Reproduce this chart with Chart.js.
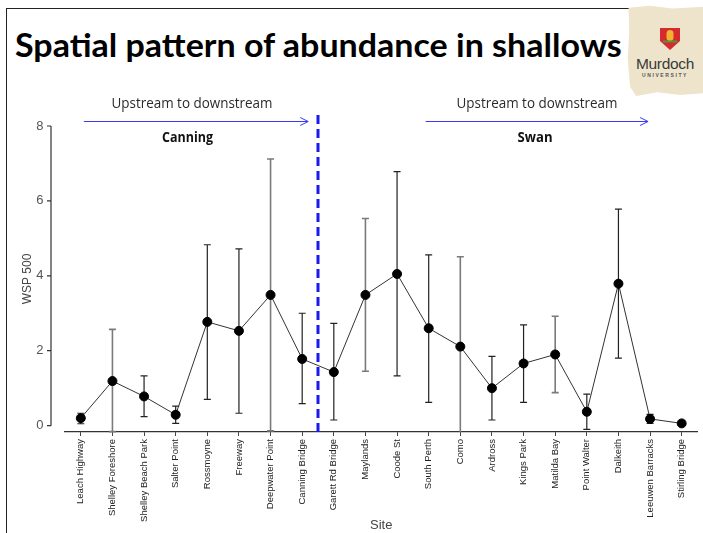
<!DOCTYPE html>
<html>
<head>
<meta charset="utf-8">
<script src="https://cdn.jsdelivr.net/npm/chart.js@4"></script>
<style>
  body { margin: 0; background: #fff; }
  #slide { position: relative; width: 703px; height: 533px; overflow: hidden; background: #fff; }
  #frameTop { position: absolute; left: 7px; top: 8px; width: 640px; height: 0; border-top: 1.5px solid #222; }
  #frameLeft { position: absolute; left: 6px; top: 8px; width: 0; height: 540px; border-left: 1.5px solid #222; }
  #title { position: absolute; left: 15px; top: 24px; font: bold 33px Lato, "Open Sans", sans-serif; color: #000;
           white-space: nowrap; transform-origin: 0 0; }
  #logo { position: absolute; left: 627px; top: 4px; width: 76px; height: 92px; background: #eee4cc;
          clip-path: polygon(2% 4%, 30% 2%, 60% 5%, 100% 3%, 100% 97%, 70% 99%, 40% 96%, 12% 100%, 4% 90%, 1% 60%, 3% 30%); }
  #logo svg { position: absolute; left: 32px; top: 23px; }
  #logo .name { position: absolute; left: 0; width: 76px; top: 51px; text-align: center;
                font: 15.5px "Liberation Sans", Arial, sans-serif; color: #3a3a3a; letter-spacing: -0.3px; }
  #logo .uni { position: absolute; left: 0; width: 76px; top: 68px; text-align: center;
               font: bold 5px "Liberation Sans", Arial, sans-serif; color: #555; letter-spacing: 1.6px; }
  canvas { position: absolute; left: 0; top: 0; }
</style>
</head>
<body>
<div id="slide">
  <div id="frameTop"></div>
  <div id="frameLeft"></div>
  <div id="title">Spatial pattern of abundance in shallows</div>
  <div id="logo">
    <svg width="22" height="24" viewBox="0 0 22 24">
      <path d="M1 1 H21 V14 L11 23 L1 14 Z" fill="#d52b2f"/>
      <rect x="7.5" y="3" width="7" height="11" rx="3.5" fill="#f2b230"/>
      <rect x="4" y="13.5" width="14" height="2" fill="#4e9a3a"/>
    </svg>
    <div class="name">Murdoch</div>
    <div class="uni">UNIVERSITY</div>
  </div>
  <canvas id="chart" width="703" height="533"></canvas>
</div>
<script>
// sites along the Canning then the Swan, upstream to downstream
const sites = ['Leach Highway', 'Shelley Foreshore', 'Shelley Beach Park', 'Salter Point', 'Rossmoyne',
  'Freeway', 'Deepwater Point', 'Canning Bridge', 'Garett Rd Bridge', 'Maylands', 'Coode St',
  'South Perth', 'Como', 'Ardross', 'Kings Park', 'Matilda Bay', 'Point Walter', 'Dalkeith',
  'Leeuwen Barracks', 'Stirling Bridge'];
const wspMean  = [0.20, 1.19, 0.78, 0.29, 2.77, 2.53, 3.49, 1.78, 1.43, 3.49, 4.05, 2.60, 2.11, 1.00, 1.66, 1.90, 0.37, 3.79, 0.18, 0.06];
const wspUpper = [0.33, 2.57, 1.33, 0.52, 4.83, 4.72, 7.12, 3.00, 2.73, 5.53, 6.78, 4.56, 4.51, 1.85, 2.69, 2.92, 0.84, 5.78, 0.30, 0.08];
const wspLower = [0.05, -0.16, 0.24, 0.06, 0.70, 0.33, -0.14, 0.59, 0.15, 1.45, 1.33, 0.62, -0.20, 0.15, 0.62, 0.88, -0.10, 1.80, 0.06, 0.04];
const yTicks = [0, 2, 4, 6, 8];

// squeeze the heading into its slot
const titleEl = document.getElementById('title');
titleEl.style.transform = 'scaleX(' + (607 / titleEl.offsetWidth) + ')';

const greyBars = [1, 6, 9, 12, 15];

// error bars behind the points
const errorBars = {
  id: 'errorBars',
  beforeDatasetsDraw(chart) {
    const { ctx, scales: { x, y }, chartArea } = chart;
    ctx.save();
    sites.forEach((s, i) => {
      const px = x.getPixelForValue(i);
      const top = y.getPixelForValue(wspUpper[i]);
      const bot = Math.min(y.getPixelForValue(wspLower[i]), chartArea.bottom);
      const grey = greyBars.includes(i);
      ctx.strokeStyle = grey ? '#7a7a7a' : '#222';
      ctx.lineWidth = grey ? 1.6 : 1.2;
      ctx.beginPath();
      ctx.moveTo(px, top); ctx.lineTo(px, bot);
      ctx.moveTo(px - 3.5, top); ctx.lineTo(px + 3.5, top);
      if (bot < chartArea.bottom) { ctx.moveTo(px - 3.5, bot); ctx.lineTo(px + 3.5, bot); }
      ctx.stroke();
    });
    ctx.restore();
  }
};

function arrow(ctx, x1, x2, yy) {
  ctx.beginPath();
  ctx.moveTo(x1, yy); ctx.lineTo(x2, yy);
  ctx.moveTo(x2 - 8, yy - 4); ctx.lineTo(x2, yy); ctx.lineTo(x2 - 8, yy + 4);
  ctx.stroke();
}

// R-style y axis, river divider and labels
const decorations = {
  id: 'decorations',
  afterDraw(chart) {
    const { ctx, scales: { x, y }, chartArea } = chart;
    ctx.save();
    // y axis line with outward ticks
    const ax = chartArea.left - 14;
    ctx.strokeStyle = '#333';
    ctx.lineWidth = 1.2;
    ctx.beginPath();
    ctx.moveTo(ax, y.getPixelForValue(yTicks[yTicks.length - 1]));
    ctx.lineTo(ax, y.getPixelForValue(yTicks[0]));
    yTicks.forEach(v => {
      const py = y.getPixelForValue(v);
      ctx.moveTo(ax - 4, py); ctx.lineTo(ax, py);
    });
    ctx.stroke();

    // divider between Canning and Swan
    const dx = (x.getPixelForValue(7) + x.getPixelForValue(8)) / 2;
    ctx.strokeStyle = '#1919f0';
    ctx.lineWidth = 3;
    ctx.setLineDash([9, 5]);
    ctx.beginPath();
    ctx.moveTo(dx, 115); ctx.lineTo(dx, chartArea.bottom);
    ctx.stroke();
    ctx.setLineDash([]);

    // flow arrows
    ctx.strokeStyle = '#3a3af5';
    ctx.lineWidth = 1;
    arrow(ctx, x.getPixelForValue(0) + 3, x.getPixelForValue(7) + 6, 121.5);
    arrow(ctx, x.getPixelForValue(11) - 3, x.getPixelForValue(18) - 2, 121.5);

    ctx.fillStyle = '#2a2a2a';
    ctx.textAlign = 'center';
    ctx.textBaseline = 'middle';
    ctx.font = '15px "Open Sans", sans-serif';
    ctx.fillText('Upstream to downstream', 192, 104, 161);
    ctx.fillText('Upstream to downstream', 537, 104, 161);
    ctx.fillStyle = '#111';
    ctx.font = 'bold 14px "Open Sans", sans-serif';
    ctx.fillText('Canning', 187.5, 138, 51);
    ctx.fillText('Swan', 535, 138, 35);
    ctx.restore();
  }
};

new Chart(document.getElementById('chart'), {
  type: 'line',
  data: {
    labels: sites,
    datasets: [{
      data: wspMean,
      borderColor: '#333',
      borderWidth: 1,
      tension: 0,
      pointRadius: 4.5,
      pointBorderWidth: 1,
      pointBackgroundColor: '#000',
      pointBorderColor: '#000'
    }]
  },
  options: {
    responsive: false,
    animation: false,
    layout: { padding: { top: 126, right: 5, left: 0, bottom: 0 } },
    plugins: { legend: { display: false }, tooltip: { enabled: false } },
    scales: {
      x: {
        offset: true,
        afterFit: s => { s.height = 101; },
        grid: { display: true, drawOnChartArea: false, drawTicks: true, tickLength: 4, color: '#444' },
        border: { display: true, color: '#333', width: 1.2 },
        ticks: { autoSkip: false, maxRotation: 90, minRotation: 90, padding: 3,
                 color: '#222', font: { family: '"Liberation Sans", Arial', size: 9.5 } },
        title: { display: true, text: 'Site', color: '#444', padding: { top: 0, bottom: 0 },
                 font: { family: '"Liberation Sans", Arial', size: 13 } }
      },
      y: {
        min: -0.17,
        max: 8,
        afterBuildTicks: s => { s.ticks = yTicks.map(v => ({ value: v })); },
        afterFit: s => { s.width = 65; },
        grid: { display: false, drawTicks: false },
        border: { display: false },
        ticks: { padding: 21.5, color: '#555', font: { family: '"Liberation Sans", Arial', size: 13 } },
        title: { display: true, text: 'WSP 500', color: '#444', padding: { top: 20, bottom: 0 },
                 font: { family: '"Liberation Sans", Arial', size: 12 } }
      }
    }
  },
  plugins: [errorBars, decorations]
});
</script>
</body>
</html>
